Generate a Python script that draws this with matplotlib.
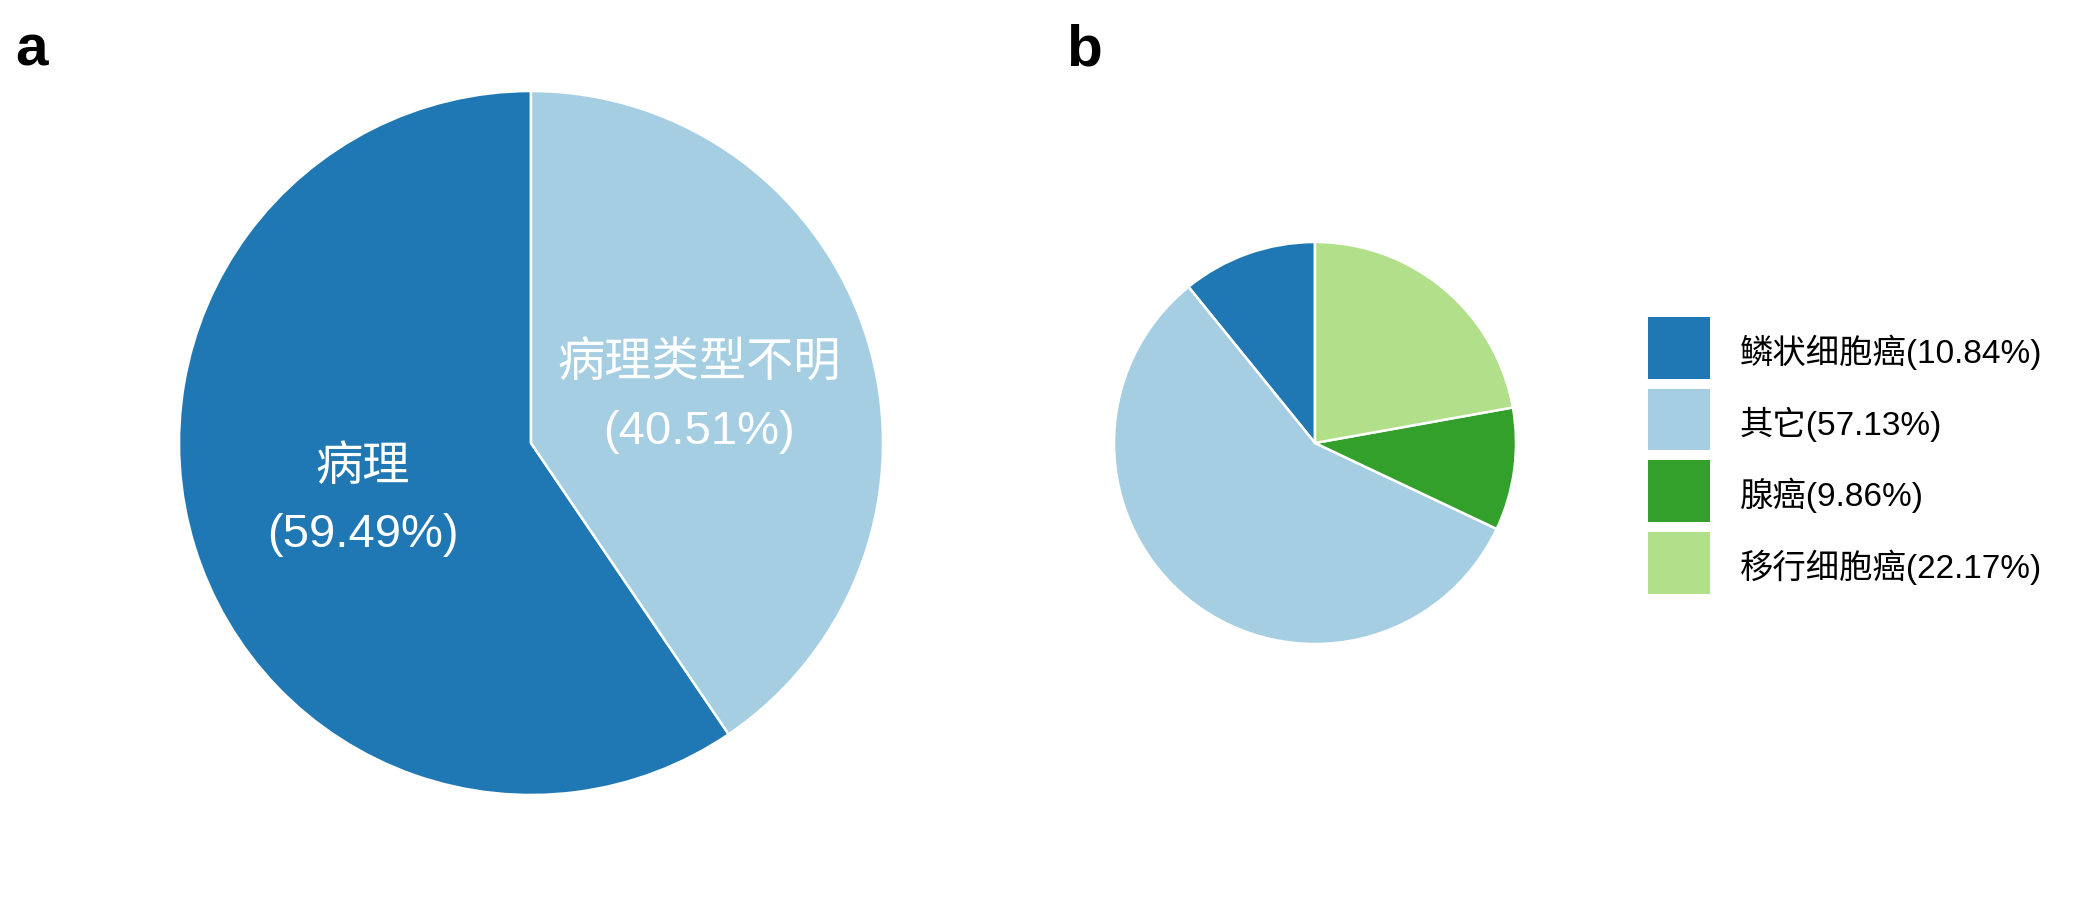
import matplotlib
matplotlib.use("Agg")
import matplotlib.pyplot as plt
from matplotlib.patches import Patch, Rectangle
from matplotlib.legend_handler import HandlerPatch
import numpy as np

plt.rcParams['font.family'] = ['Liberation Sans', 'Noto Sans CJK SC', 'DejaVu Sans']

# Panel a data
a_labels = ["病理", "病理类型不明"]
a_values = [59.49, 40.51]
a_colors = ["#1F78B4", "#A6CEE3"]

# Panel b data
b_labels = ["鳞状细胞癌", "其它", "腺癌", "移行细胞癌"]
b_values = [10.84, 57.13, 9.86, 22.17]
b_colors = ["#1F78B4", "#A6CEE3", "#33A02C", "#B2DF8A"]

W, H = 2100, 900
DPI = 150
fig = plt.figure(figsize=(W / DPI, H / DPI), dpi=DPI)


def add_square_axes(cx, cy, r):
    return fig.add_axes([(cx - r) / W, (H - cy - r) / H, 2 * r / W, 2 * r / H])


# ---- panel a ----
ax_a = add_square_axes(531, 443, 352)
wedges_a, _ = ax_a.pie(a_values, colors=a_colors, startangle=90, counterclock=True,
                       radius=1, wedgeprops=dict(edgecolor="white", linewidth=1.2))
ax_a.set_xlim(-1, 1)
ax_a.set_ylim(-1, 1)
ax_a.set_axis_off()
for w, lab, v in zip(wedges_a, a_labels, a_values):
    ang = np.deg2rad((w.theta1 + w.theta2) / 2)
    ax_a.text(0.5 * np.cos(ang), 0.5 * np.sin(ang) - 0.02, f"{lab}\n({v:.2f}%)",
              ha="center", va="center", color="white", fontsize=22.7,
              linespacing=1.68)

# ---- panel b ----
ax_b = add_square_axes(1315, 443, 201)
ax_b.pie(b_values, colors=b_colors, startangle=90, counterclock=True,
         radius=1, wedgeprops=dict(edgecolor="white", linewidth=1.2))
ax_b.set_xlim(-1, 1)
ax_b.set_ylim(-1, 1)
ax_b.set_axis_off()

DY_PT = 2.4  # raise squares slightly relative to text


def square(legend, orig_handle, xdescent, ydescent, width, height, fontsize):
    return Rectangle(xy=(-xdescent, -ydescent + DY_PT), width=width, height=height)


handles = [Patch(facecolor=c, edgecolor="none") for c in b_colors]
legend_labels = [f"{l}({v:.2f}%)" for l, v in zip(b_labels, b_values)]
fs = 16
fig.legend(handles, legend_labels, loc="upper left",
           bbox_to_anchor=(1648 / W, 1 - 322 / H), frameon=False,
           fontsize=fs, handlelength=1.85, handleheight=2.47,
           labelspacing=0.3, handletextpad=0.9, borderpad=0, borderaxespad=0,
           handler_map={Patch: HandlerPatch(patch_func=square)})

# panel labels
fig.text(15 / W, 1 - 66 / H, "a", fontsize=28, fontweight="bold", ha="left", va="baseline")
fig.text(1066 / W, 1 - 66 / H, "b", fontsize=28, fontweight="bold", ha="left", va="baseline")

fig.savefig("out.png", dpi=DPI, facecolor="white")
